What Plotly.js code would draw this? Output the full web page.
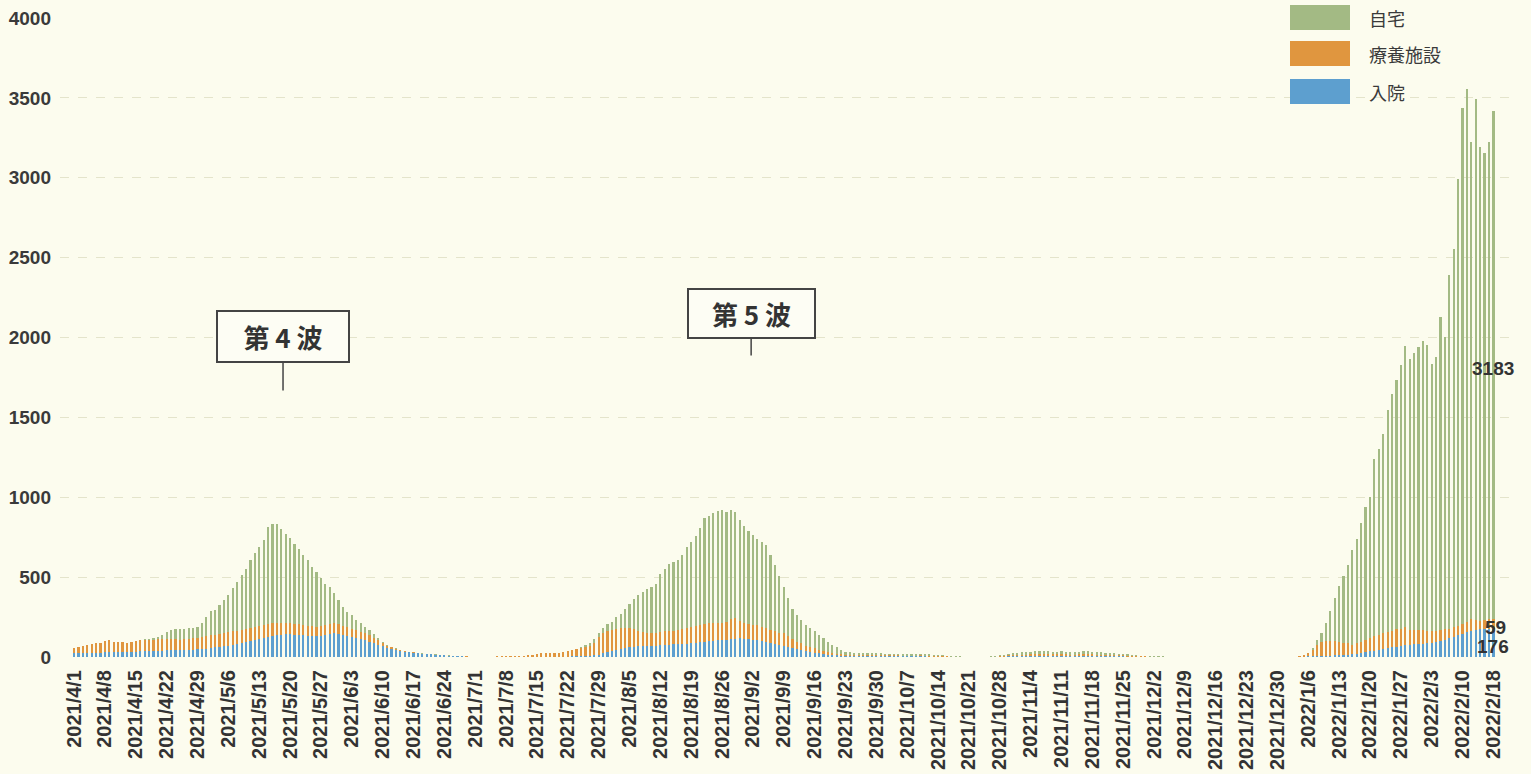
<!DOCTYPE html>
<html>
<head>
<meta charset="utf-8">
<script src="https://cdn.plot.ly/plotly-3.0.1.min.js"></script>
<style>
html,body{margin:0;padding:0;background:#fcfcee;}
#chart{width:1531px;height:774px;}
</style>
</head>
<body>
<div id="chart"></div>
<script>
// ---- data ----
const seriesNames = ['入院', '療養施設', '自宅'];
const seriesColors = ['#5d9fcf', '#e0963f', '#a3ba84'];

const firstDay = '2021/4/1';
const lastDay = '2022/2/18';
const skippedDays = ['2022/2/11'];

const hospital = [
24,25,26,27,27,28,28,30,30,31,
31,32,32,33,34,35,36,37,38,39,
40,41,42,43,43,44,45,46,48,50,
53,56,60,63,66,70,76,82,88,94,
100,108,115,122,128,133,138,140,141,142,
140,138,136,134,132,131,134,140,145,148,
146,140,134,127,120,112,104,96,88,78,
68,57,49,45,38,33,29,27,22,20,
18,16,14,12,10,8,7,5,4,3,
3,
0,0,0,0,1,1,1,1,1,1,
1,1,1,2,2,2,2,2,2,3,
3,3,4,4,5,6,8,10,15,22,
30,38,45,52,58,62,65,66,67,68,
70,72,75,76,78,80,82,83,84,85,
88,92,96,100,102,104,106,108,112,115,
117,115,112,108,104,100,96,90,84,78,
72,65,58,50,44,38,33,28,23,18,
15,13,10,8,6,6,6,5,5,5,5,5,
5,4,4,4,4,4,4,4,4,4,
4,3,3,3,2,2,1,1,1,1,
1,0,0,0,1,1,1,2,3,4,
5,5,6,6,6,7,7,7,7,6,
6,7,6,6,6,6,7,7,6,6,
6,5,5,5,4,4,3,3,2,2,
2,1,1,1,1,1,1,1,
1,1,1,1,1,1,1,1,1,1,1,1,1,0,1,1,1,1,1,1,1,1,1,1,1,1,
1,2,3,4,5,6,7,8,9,10,
11,12,14,16,20,27,32,36,40,45,
50,55,60,65,70,75,78,80,82,84,
87,90,95,100,108,118,127,135,145,155,
165,172,178,178,177,176
];

const facility = [
30,37,45,49,54,58,62,70,76,65,
61,63,58,63,66,69,72,69,70,71,
72,69,70,67,65,68,70,70,70,75,
77,80,80,82,84,88,86,83,82,81,
80,78,77,76,77,77,76,75,71,68,
68,67,64,62,60,59,61,60,61,62,
58,56,54,51,48,46,44,39,34,27,
22,15,11,7,4,3,2,2,2,1,
1,1,1,1,1,1,1,1,1,1,
0,
2,2,3,3,2,3,4,5,6,7,
8,8,9,12,18,23,25,26,25,25,
27,33,38,44,50,54,60,80,112,128,
135,134,133,128,122,117,110,99,88,82,
80,80,83,84,84,85,87,92,98,105,
107,108,109,110,108,106,106,112,123,127,
108,95,93,92,94,90,84,79,76,74,
76,65,52,46,41,34,32,27,22,20,
18,12,10,8,7,8,8,8,8,7,7,7,
6,6,6,6,6,5,5,5,5,6,
5,5,4,4,3,3,2,2,1,1,
1,1,1,1,1,1,2,3,4,6,
7,8,9,9,10,10,11,10,10,10,
10,10,10,9,9,10,10,10,10,9,
8,8,7,7,6,6,5,4,3,3,
2,2,2,1,1,1,1,1,
1,1,1,0,1,1,1,1,0,1,1,1,1,1,1,0,1,1,1,1,1,0,1,1,1,1,
2,4,9,19,39,69,89,90,93,88,
81,73,71,62,65,69,74,84,90,93,
98,103,105,110,103,110,94,89,87,86,
78,70,70,70,65,60,60,62,60,62,
75,62,50,55,60,59
];

const home = [
0,0,0,0,0,0,0,0,0,0,
0,0,0,0,0,0,2,9,12,15,
28,46,60,67,70,64,65,66,70,85,
120,149,154,180,206,229,267,306,343,379,
426,462,498,533,610,621,617,589,561,532,
502,474,438,410,373,343,297,260,234,188,
152,119,95,85,63,52,42,34,23,15,
5,3,2,2,2,2,2,1,1,1,
1,1,1,1,1,1,0,0,0,0,
0,
0,0,0,0,0,0,0,0,0,0,
0,0,0,0,0,0,0,0,0,0,
0,0,2,4,7,15,22,25,23,30,
40,49,72,90,120,151,185,225,255,275,
290,308,362,390,418,430,436,465,508,530,
565,610,665,675,690,705,708,685,683,668,
635,610,585,565,542,530,520,471,415,358,
292,240,190,164,145,128,115,105,95,82,
62,50,40,29,19,16,14,14,13,13,12,11,
11,11,10,10,9,9,9,8,9,9,
9,8,7,5,5,3,3,2,2,1,
1,1,1,1,1,2,3,5,8,10,
13,15,15,17,18,19,19,19,18,17,
18,18,17,16,17,18,19,18,17,16,
15,14,13,11,11,9,8,6,6,4,
3,3,2,2,2,1,1,1,
0,1,0,1,0,0,1,0,1,0,0,1,0,0,1,1,0,0,1,0,0,1,0,0,1,0,
0,0,0,2,11,30,52,112,183,272,
354,420,491,592,655,740,834,882,1112,1167,
1250,1386,1483,1560,1658,1759,1695,1733,1771,1807,
1791,1675,1712,1961,1829,2211,2369,2795,3234,3337,
2981,3258,2966,2919,2984,3183
];

const waveLabels = ['第 4 波', '第 5 波'];

// ---- category axis (one bar per reported day) ----
function parseDay(s){ const p = s.split('/').map(Number); return Date.UTC(p[0], p[1]-1, p[2]); }
function fmtDay(t){ const d = new Date(t); return d.getUTCFullYear()+'/'+(d.getUTCMonth()+1)+'/'+d.getUTCDate(); }
const days = [];
for (let t = parseDay(firstDay); t <= parseDay(lastDay); t += 86400000) {
  const s = fmtDay(t);
  if (!skippedDays.includes(s)) days.push(s);
}
const tickDays = days.filter((d, i) => i % 7 === 0 || i === days.length - 1);

const values = [hospital, facility, home];
const traces = values.map((v, k) => ({
  type: 'bar', x: days, y: v, name: seriesNames[k],
  marker: {color: seriesColors[k], line: {width: 0}},
  showlegend: false, hoverinfo: 'x+y+name'
}));

const last = days.length - 1;
const L = 60, R = 16, T = 18, B = 117, W = 1531, H = 774;
const pw = W - L - R, ph = H - T - B;
const px = v => (v - L) / pw;           // pixel -> paper (x)
const py = v => (H - B - v) / ph;       // pixel -> paper (y)

const numFont = {family: 'Liberation Sans, Arial, sans-serif', size: 19, color: '#333', weight: 'bold'};
const annotations = [
  {x: last, y: hospital[last] / 2, text: String(hospital[last]), showarrow: false, font: numFont, xanchor: 'center', yshift: -4},
  {x: last, y: hospital[last] + facility[last] / 2, text: String(facility[last]), showarrow: false, font: numFont, xanchor: 'center', xshift: 2, yshift: -3},
  {x: last, y: hospital[last] + facility[last] + home[last] / 2, text: String(home[last]), showarrow: false, font: numFont, xanchor: 'center', yshift: -3}
];
annotations.push(
  {x: 47.4, y: 1669, text: waveLabels[0], showarrow: true, arrowhead: 0, arrowwidth: 1.5, arrowcolor: '#444',
   ax: 0, ay: -54, width: 130, height: 49, bgcolor: '#fdfdf4', bordercolor: '#444', borderwidth: 2, borderpad: 0,
   font: {family: 'Noto Sans CJK JP, sans-serif', size: 26, color: '#333', weight: 'bold'}},
  {x: 153.6, y: 1887, text: waveLabels[1], showarrow: true, arrowhead: 0, arrowwidth: 1.5, arrowcolor: '#444',
   ax: 0, ay: -42, width: 125, height: 47, bgcolor: '#fdfdf4', bordercolor: '#444', borderwidth: 2, borderpad: 0,
   font: {family: 'Noto Sans CJK JP, sans-serif', size: 26, color: '#333', weight: 'bold'}}
);

// legend drawn as swatches + labels (top to bottom: 自宅, 療養施設, 入院)
const shapes = [];
const legendRows = [{k: 2, top: 5}, {k: 1, top: 41}, {k: 0, top: 79}];
legendRows.forEach(r => {
  shapes.push({type: 'rect', xref: 'paper', yref: 'paper', x0: px(1290), x1: px(1350), y0: py(r.top), y1: py(r.top + 25),
    fillcolor: seriesColors[r.k], line: {width: 0}, layer: 'above'});
  annotations.push({xref: 'paper', yref: 'paper', x: px(1367), y: py(r.top + 12.5), xanchor: 'left', yanchor: 'middle',
    text: seriesNames[r.k], showarrow: false, font: {family: 'Noto Sans CJK JP, sans-serif', size: 18, color: '#3a3a3a'}});
});

const layout = {
  width: W, height: H,
  margin: {l: L, r: R, t: T, b: B, pad: 0},
  paper_bgcolor: '#fcfcee', plot_bgcolor: '#fcfcee',
  barmode: 'stack', bargap: 0.5,
  showlegend: false,
  xaxis: {
    type: 'category', range: [-3.2, 326.9], tickmode: 'array', tickvals: tickDays, ticktext: tickDays,
    tickangle: -90, ticks: '', showgrid: false, zeroline: false, showline: false, automargin: false,
    tickfont: {family: 'Liberation Sans, Arial, sans-serif', size: 20, color: '#333', weight: 'bold'},
    ticklabelstandoff: 8
  },
  yaxis: {
    range: [0, 4000], dtick: 500, tick0: 0, ticks: '', showline: false, zeroline: false, automargin: false,
    gridcolor: 'rgba(200,200,160,0.45)', griddash: 'dash', gridwidth: 1,
    tickfont: {family: 'Liberation Sans, Arial, sans-serif', size: 19, color: '#3a3a3a', weight: 'bold'},
    ticklabelstandoff: 8
  },
  annotations: annotations,
  shapes: shapes
};

Plotly.newPlot('chart', traces, layout, {displayModeBar: false, staticPlot: true});
</script>
</body>
</html>
